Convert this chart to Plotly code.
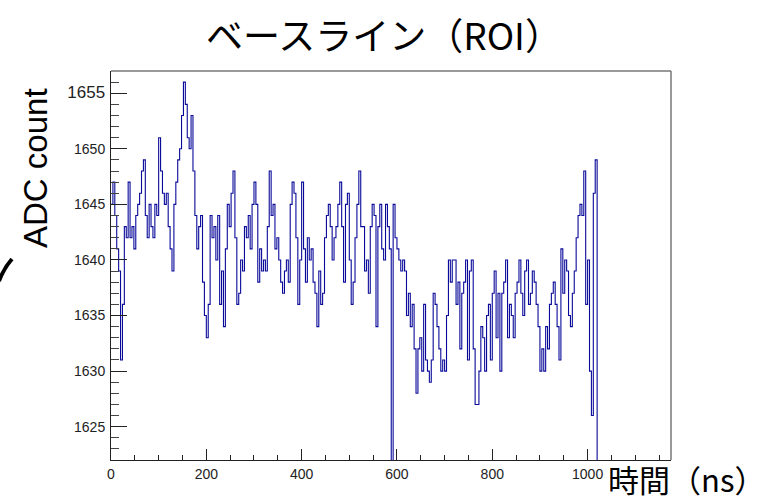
import plotly.graph_objects as go

# ---- data ----
bin_width_ns = 4
adc_counts = [
    1645, 1647, 1644, 1641, 1639, 1631, 1636, 1643, 1642, 1647,
    1642, 1643, 1641, 1644, 1645, 1646, 1648, 1649, 1644, 1642,
    1645, 1643, 1642, 1645, 1644, 1651, 1648, 1646, 1645, 1646,
    1643, 1641, 1639, 1645, 1647, 1649, 1650, 1653, 1656, 1654,
    1651, 1650, 1653, 1648, 1644, 1641, 1643, 1644, 1638, 1635,
    1633, 1636, 1644, 1642, 1643, 1640, 1644, 1636, 1639, 1634,
    1641, 1645, 1643, 1646, 1648, 1642, 1636, 1637, 1640, 1639,
    1643, 1642, 1644, 1641, 1645, 1647, 1645, 1638, 1641, 1639,
    1640, 1639, 1643, 1648, 1644,
    1645, 1641, 1642, 1640, 1638, 1637, 1639, 1640, 1638, 1645,
    1647, 1646, 1642, 1636, 1640, 1647, 1641, 1638, 1642, 1640,
    1641, 1638, 1637, 1634, 1639, 1636, 1637, 1642, 1644, 1645,
    1643, 1640, 1642, 1643, 1645, 1647, 1643, 1638, 1645, 1646,
    1640, 1636, 1638, 1642, 1645, 1648, 1643, 1643, 1639, 1640,
    1637, 1643, 1645, 1644, 1634, 1643, 1645, 1641, 1640, 1645,
    1643, 1641, 1600, 1645, 1642, 1641, 1640, 1639, 1640, 1639,
    1635, 1637, 1634, 1636, 1632, 1628, 1632, 1633, 1630, 1636,
    1631, 1630, 1629, 1631, 1637,
    1636, 1634, 1632, 1630, 1631, 1630, 1635, 1640, 1638, 1640,
    1640, 1636, 1638, 1632, 1637, 1638, 1640, 1631, 1639, 1640,
    1632, 1627, 1627, 1630, 1634, 1633, 1630, 1635, 1636, 1631,
    1637, 1639, 1633, 1637, 1630, 1637, 1638, 1640, 1633, 1636,
    1635, 1633, 1637, 1638, 1640, 1637, 1635, 1639, 1640, 1636,
    1637, 1639, 1638, 1636, 1634, 1630, 1632, 1630, 1634, 1632,
    1636, 1637, 1638, 1636, 1634, 1631, 1641, 1637, 1640, 1639,
    1635, 1634, 1637, 1639, 1642, 1644, 1645, 1644, 1648, 1636,
    1640, 1630, 1626, 1646, 1649, 1600,
]
x_tick_vals = [0, 200, 400, 600, 800, 1000]
x_tick_text = ["0", "200", "400", "600", "800", "1000"]
y_tick_vals = [1625, 1630, 1635, 1640, 1645, 1650, 1655]
y_tick_text = ["1625", "1630", "1635", "1640", "1645", "1650",
               "<span style='font-size:17px'>1655</span>"]
x_range = [0, 1175]
y_range = [1622, 1657]
title_text = "ベースライン（ROI）"
x_title = "時間（ns）"
y_title = "ADC count"

# step histogram: left bin edges plus the final right edge
xs = [i * bin_width_ns for i in range(len(adc_counts))] + [len(adc_counts) * bin_width_ns]
ys = adc_counts + [adc_counts[-1]]

W, H = 765, 500
L, R, T, B = 111, 94, 71, 40
pw, ph = W - L - R, H - T - B


def px(xpix):
    return (xpix - L) / pw


def py(ypix):
    return (H - B - ypix) / ph


fig = go.Figure()
fig.add_trace(go.Scatter(
    x=xs, y=ys, mode="lines", line=dict(shape="hv", color="#0a0a9a", width=1.1),
    showlegend=False, hoverinfo="skip"))

tick_font = dict(family="Liberation Sans, Arial, sans-serif", size=14, color="#222")
fig.update_layout(
    width=W, height=H, margin=dict(l=L, r=R, t=T, b=B, autoexpand=False),
    paper_bgcolor="white", plot_bgcolor="white",
    xaxis=dict(range=x_range, tickvals=x_tick_vals, ticktext=x_tick_text,
               ticks="inside", ticklen=11, tickwidth=1, tickcolor="#222",
               minor=dict(dtick=50, ticks="inside", ticklen=5, tickwidth=1, tickcolor="#222"),
               showline=True, linecolor="#222", linewidth=1, mirror=False,
               showgrid=False, zeroline=False, tickfont=tick_font, ticklabelstandoff=1),
    yaxis=dict(range=y_range, tickvals=y_tick_vals, ticktext=y_tick_text,
               ticks="inside", ticklen=16, tickwidth=1, tickcolor="#222",
               minor=dict(dtick=1, ticks="inside", ticklen=8, tickwidth=1, tickcolor="#444"),
               showline=True, linecolor="#222", linewidth=1, mirror=False,
               showgrid=False, zeroline=False, tickfont=tick_font, ticklabelstandoff=2),
    font=dict(family="Noto Sans CJK JP, Liberation Sans, sans-serif"),
)

# gray top/right frame
fig.add_shape(type="line", xref="paper", yref="paper", x0=0, x1=1, y0=1, y1=1,
              line=dict(color="#777", width=1.5))
fig.add_shape(type="line", xref="paper", yref="paper", x0=1, x1=1, y0=0, y1=1,
              line=dict(color="#777", width=1.5))

# curved stroke at far left
fig.add_shape(type="path", xref="paper", yref="paper",
              path=f"M {px(-1)},{py(281)} Q {px(4)},{py(268)} {px(12)},{py(259)}",
              line=dict(color="black", width=4))

fig.add_annotation(text=title_text, x=px(384), y=py(34), xref="paper", yref="paper",
                   showarrow=False, xanchor="center", yanchor="middle",
                   font=dict(family="Noto Sans CJK JP", size=37, color="black"))
fig.add_annotation(text=y_title, x=px(35), y=py(168), xref="paper", yref="paper",
                   showarrow=False, textangle=-90, xanchor="center", yanchor="middle",
                   font=dict(family="Liberation Sans, Arial", size=33, color="black"))
fig.add_annotation(text=x_title, x=px(686), y=py(478), xref="paper", yref="paper",
                   showarrow=False, xanchor="center", yanchor="middle",
                   font=dict(family="Noto Sans CJK JP", size=31, color="black"))

fig.write_html("out.html")
